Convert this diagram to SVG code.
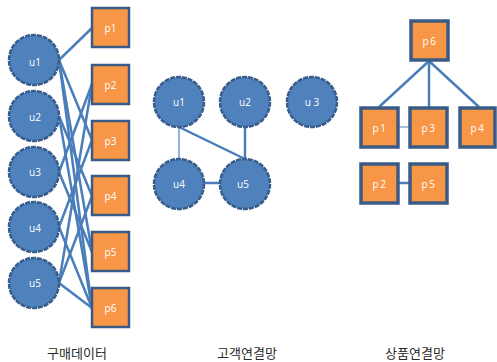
<svg xmlns="http://www.w3.org/2000/svg" width="497" height="362" viewBox="0 0 497 362">
  <style>
    .cust { fill: #4F81BD; stroke: #385C8B; stroke-width: 2.5; stroke-dasharray: 5 1; }
    .prod { fill: #F79646; stroke: #3B5B87; stroke-width: 2.5; }
    .prod2 { fill: #F79646; stroke: #3B5B87; stroke-width: 3.5; }
    .lbl { fill: #ffffff; font-family: "Open Sans", "Liberation Sans", sans-serif; font-size: 10px; text-anchor: middle; }
    .lbl2 { fill: #ffffff; font-family: "Open Sans", "Liberation Sans", sans-serif; font-size: 10px; text-anchor: middle; letter-spacing: 1.5px; }
    .edge { stroke: #4A7EBB; stroke-width: 2.5; fill: none; }
    .title { fill: #2a2a2a; font-family: "Noto Sans CJK KR", "Noto Sans", sans-serif; font-size: 13px; text-anchor: middle; }
  </style>

  <!-- purchase data: bipartite customer/product links -->
  <g id="purchase-edges">
    <line class="edge" x1="59" y1="60" x2="92" y2="28" stroke-width="3"/>
    <line class="edge" x1="59" y1="60" x2="92" y2="140"/>
    <line class="edge" x1="59" y1="60" x2="92" y2="252"/>
    <line class="edge" x1="59" y1="60" x2="92" y2="308"/>
    <line class="edge" x1="59" y1="116" x2="92" y2="196"/>
    <line class="edge" x1="59" y1="116" x2="92" y2="308"/>
    <line class="edge" x1="59" y1="172" x2="92" y2="84"/>
    <line class="edge" x1="59" y1="172" x2="92" y2="252"/>
    <line class="edge" x1="59" y1="227" x2="92" y2="140"/>
    <line class="edge" x1="59" y1="227" x2="92" y2="308"/>
    <line class="edge" x1="59" y1="283" x2="92" y2="84"/>
    <line class="edge" x1="59" y1="283" x2="92" y2="196"/>
    <line class="edge" x1="59" y1="283" x2="92" y2="308"/>
  </g>

  <g id="pu1"><circle class="cust" cx="34" cy="60" r="25"/><text class="lbl" x="35" y="66">u1</text></g>
  <g id="pu2"><circle class="cust" cx="34" cy="116" r="25"/><text class="lbl" x="35" y="121">u2</text></g>
  <g id="pu3"><circle class="cust" cx="34" cy="172" r="25"/><text class="lbl" x="35" y="176">u3</text></g>
  <g id="pu4"><circle class="cust" cx="34" cy="227" r="25"/><text class="lbl" x="35" y="232">u4</text></g>
  <g id="pu5"><circle class="cust" cx="34" cy="283" r="25"/><text class="lbl" x="35" y="287">u5</text></g>

  <g id="pp1"><rect class="prod" x="92" y="8" width="37" height="39"/><text class="lbl" x="110.5" y="32">p1</text></g>
  <g id="pp2"><rect class="prod" x="92" y="65" width="37" height="39"/><text class="lbl" x="110.5" y="89">p2</text></g>
  <g id="pp3"><rect class="prod" x="92" y="121" width="37" height="39"/><text class="lbl" x="110.5" y="145">p3</text></g>
  <g id="pp4"><rect class="prod" x="92" y="176" width="37" height="39"/><text class="lbl" x="110.5" y="200">p4</text></g>
  <g id="pp5"><rect class="prod" x="92" y="232" width="37" height="39"/><text class="lbl" x="110.5" y="256">p5</text></g>
  <g id="pp6"><rect class="prod" x="92" y="288" width="37" height="39"/><text class="lbl" x="110.5" y="312">p6</text></g>

  <!-- customer network -->
  <g id="customer-edges">
    <line x1="179" y1="128" x2="179" y2="158" stroke="#8DB3E2" stroke-width="2"/>
    <line class="edge" x1="179" y1="127" x2="245" y2="159"/>
    <line class="edge" x1="245" y1="128" x2="245" y2="158" stroke-width="3.5"/>
    <line class="edge" x1="204" y1="183" x2="220" y2="183" stroke-width="5"/>
  </g>

  <g id="cu1"><circle class="cust" cx="179" cy="102" r="25"/><text class="lbl" x="179" y="106">u1</text></g>
  <g id="cu2"><circle class="cust" cx="245" cy="102" r="25"/><text class="lbl" x="245" y="106">u2</text></g>
  <g id="cu3"><circle class="cust" cx="312" cy="102" r="25"/><text class="lbl" x="312" y="106">u 3</text></g>
  <g id="cu4"><circle class="cust" cx="179" cy="184" r="25"/><text class="lbl" x="179" y="188">u4</text></g>
  <g id="cu5"><circle class="cust" cx="245" cy="184" r="25"/><text class="lbl" x="243" y="188">u5</text></g>

  <!-- product network -->
  <g id="product-edges">
    <line class="edge" x1="429" y1="61" x2="379" y2="107" stroke-width="3"/>
    <line class="edge" x1="429" y1="61" x2="429" y2="107" stroke-width="4"/>
    <line class="edge" x1="429" y1="61" x2="479" y2="107" stroke-width="3"/>
    <line x1="399" y1="127" x2="409" y2="127" stroke="#4A7EBB" stroke-width="1"/>
    <line class="edge" x1="399" y1="183" x2="409" y2="183" stroke-width="5"/>
  </g>

  <g id="rp6"><rect class="prod2" x="411" y="21" width="37" height="39"/><text class="lbl2" x="430" y="45">p6</text></g>
  <g id="rp1"><rect class="prod2" x="361" y="108" width="37" height="39"/><text class="lbl2" x="380" y="132">p1</text></g>
  <g id="rp3"><rect class="prod2" x="410" y="108" width="37" height="39"/><text class="lbl2" x="429" y="132">p3</text></g>
  <g id="rp4"><rect class="prod2" x="460" y="108" width="35" height="39"/><text class="lbl2" x="478" y="132">p4</text></g>
  <g id="rp2"><rect class="prod2" x="361" y="164" width="37" height="39"/><text class="lbl2" x="380" y="188">p2</text></g>
  <g id="rp5"><rect class="prod2" x="410" y="164" width="37" height="39"/><text class="lbl2" x="429" y="188">p5</text></g>

  <!-- section captions -->
  <g id="captions">
    <text class="title" x="77" y="358">구매데이터</text>
    <text class="title" x="247" y="358">고객연결망</text>
    <text class="title" x="415" y="358">상품연결망</text>
  </g>
</svg>
